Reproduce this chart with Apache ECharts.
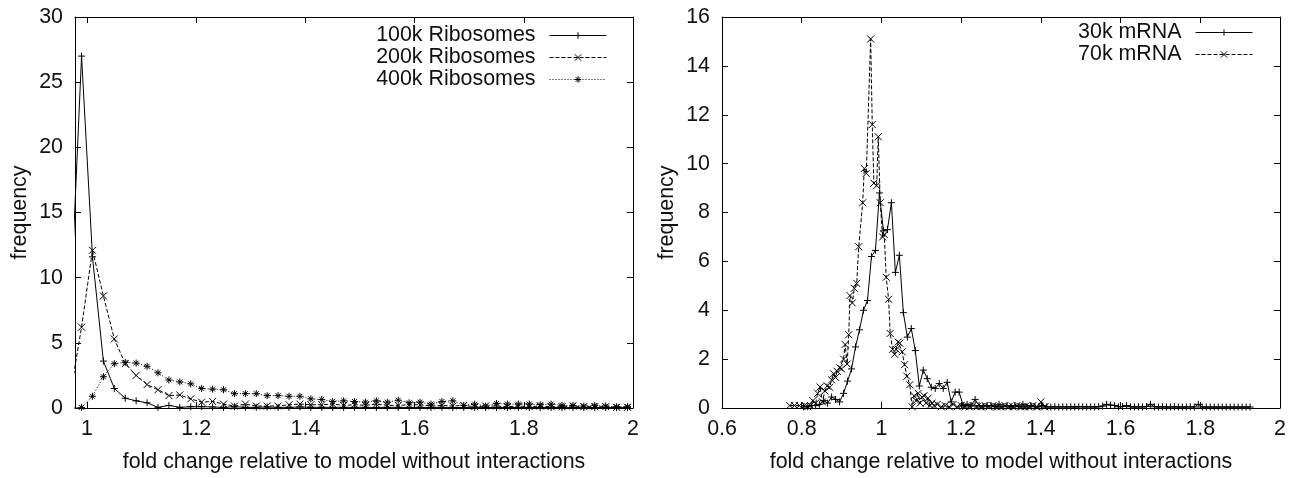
<!DOCTYPE html>
<html><head><meta charset="utf-8">
<script src="https://cdn.jsdelivr.net/npm/echarts@6/dist/echarts.min.js"></script>
<style>html,body{margin:0;padding:0;background:#fff}#c{width:1294px;height:478px}</style>
</head><body><div id="c"></div>
<script>
// ---------- left panel data ----------
const leftX = [0.97,0.99,1.01,1.03,1.05,1.07,1.09,1.11,1.13,1.15,1.17,1.19,1.21,1.23,1.25,1.27,1.29,1.31,1.33,1.35,1.37,1.39,1.41,1.43,1.45,1.47,1.49,1.51,1.53,1.55,1.57,1.59,1.61,1.63,1.65,1.67,1.69,1.71,1.73,1.75,1.77,1.79,1.81,1.83,1.85,1.87,1.89,1.91,1.93,1.95,1.97,1.99];
const ribo100k = [8,27,11.6,3.6,1.5,0.75,0.55,0.4,0.05,0.2,0.05,0.1,0.1,0.08,0.05,0.1,0.05,0.05,0.08,0.05,0.05,0.08,0.05,0.05,0.05,0.05,0.05,0.05,0.04,0.05,0.05,0.04,0.05,0.04,0.05,0.04,0.04,0.05,0.04,0.04,0.04,0.04,0.04,0.03,0.04,0.03,0.03,0.04,0.03,0.03,0.03,0.03];
const ribo200k = [1.2,6.2,12.1,8.6,5.3,3.4,2.5,1.8,1.4,0.95,1.0,0.7,0.45,0.5,0.3,0.15,0.3,0.15,0.15,0.15,0.25,0.3,0.25,0.25,0.3,0.2,0.25,0.2,0.3,0.2,0.2,0.25,0.25,0.15,0.2,0.15,0.2,0.1,0.15,0.15,0.1,0.15,0.1,0.15,0.1,0.1,0.15,0.1,0.1,0.1,0.05,0.05];
const ribo400k = [0,0.05,0.9,2.4,3.4,3.5,3.45,3.2,2.7,2.15,2.0,1.85,1.5,1.45,1.4,1.1,1.1,1.1,0.95,0.95,0.9,0.9,0.7,0.65,0.5,0.55,0.5,0.45,0.55,0.45,0.6,0.4,0.45,0.3,0.5,0.55,0.2,0.3,0.15,0.35,0.3,0.3,0.3,0.25,0.3,0.2,0.2,0.15,0.2,0.15,0.1,0.1];

// ---------- right panel data ----------
const m30kX = [0.805,0.815,0.825,0.835,0.845,0.855,0.865,0.875,0.885,0.895,0.905,0.915,0.925,0.935,0.945,0.955,0.965,0.975,0.985,0.995,1.005,1.015,1.025,1.035,1.045,1.055,1.065,1.075,1.085,1.095,1.105,1.115,1.125,1.135,1.145,1.155,1.165,1.175,1.185,1.195,1.205,1.215,1.225,1.235,1.245,1.255,1.265,1.275,1.285,1.295,1.305,1.315,1.325,1.335,1.345,1.355,1.365,1.375,1.385,1.395,1.405,1.415,1.425,1.435,1.445,1.455,1.465,1.475,1.485,1.495,1.505,1.515,1.525,1.535,1.545,1.555,1.565,1.575,1.585,1.595,1.605,1.615,1.625,1.635,1.645,1.655,1.665,1.675,1.685,1.695,1.705,1.715,1.725,1.735,1.745,1.755,1.765,1.775,1.785,1.795,1.805,1.815,1.825,1.835,1.845,1.855,1.865,1.875,1.885,1.895,1.905,1.915,1.925];
const m30kY = [0.05,0.05,0.1,0.1,0.15,0.3,0.2,0.45,0.35,0.25,0.6,1.1,1.6,2.5,3.2,4.0,4.4,6.2,6.45,8.8,7.25,7.3,8.4,5.55,6.25,3.9,2.9,3.25,2.35,0.9,1.55,1.2,0.85,0.8,1.0,0.8,1.05,0.25,0.65,0.65,0.1,0.15,0.1,0.35,0.1,0.05,0.1,0.1,0.05,0.15,0.05,0.1,0.05,0.1,0.05,0.15,0.05,0.1,0.05,0.05,0.1,0.05,0.04,0.05,0.04,0.05,0.04,0.05,0.04,0.05,0.05,0.04,0.05,0.04,0.05,0.08,0.15,0.12,0.1,0.05,0.06,0.1,0.05,0.04,0.05,0.04,0.06,0.15,0.05,0.04,0.05,0.04,0.04,0.05,0.04,0.04,0.04,0.05,0.04,0.15,0.04,0.04,0.04,0.04,0.04,0.04,0.04,0.04,0.04,0.04,0.04,0.04,0.04];
const m70kX = [0.770,0.782,0.794,0.807,0.815,0.822,0.828,0.835,0.840,0.846,0.852,0.858,0.864,0.870,0.875,0.880,0.885,0.889,0.895,0.900,0.905,0.909,0.914,0.918,0.921,0.927,0.932,0.938,0.943,0.953,0.957,0.962,0.973,0.977,0.981,0.988,0.992,0.997,1.003,1.007,1.012,1.018,1.022,1.028,1.033,1.037,1.042,1.046,1.052,1.058,1.064,1.071,1.077,1.082,1.087,1.092,1.097,1.102,1.107,1.112,1.117,1.122,1.127,1.132,1.14,1.15,1.16,1.17,1.18,1.19,1.2,1.21,1.22,1.23,1.24,1.25,1.26,1.27,1.28,1.29,1.3,1.31,1.32,1.33,1.34,1.35,1.36,1.37,1.38,1.39,1.4,1.41];
const m70kY = [0.1,0.1,0.1,0.1,0.05,0.1,0.3,0.2,0.6,0.86,0.25,0.7,0.9,0.85,1.15,1.4,1.25,1.5,1.65,1.6,2.0,2.6,1.8,3.0,4.6,4.3,4.9,5.1,6.6,8.4,9.8,9.6,15.1,11.6,9.2,9.1,11.1,8.4,7.0,7.1,5.35,4.45,3.05,2.4,2.2,2.4,2.7,2.65,2.3,1.77,1.3,0.95,0.05,0.5,0.3,0.6,0.2,0.45,0.5,0.2,0.4,0.1,0.2,0.1,0.15,0.05,0.1,0.05,0.15,0.05,0.1,0.05,0.05,0.1,0.05,0.05,0.1,0.05,0.1,0.05,0.05,0.1,0.05,0.05,0.1,0.05,0.05,0.05,0.1,0.05,0.25,0.05];

// ---------- ticks ----------
const leftXTicks = [1,1.2,1.4,1.6,1.8,2];
const rightXTicks = [0.6,0.8,1,1.2,1.4,1.6,1.8,2];
const xTitle = 'fold change relative to model without interactions';
const yTitle = 'frequency';

const FONT = "'Liberation Sans', Arial, Helvetica, sans-serif";
const TXT = '#111';
const SYM_PLUS = 'path://M0,5L10,5M5,0L5,10';
const SYM_CROSS = 'path://M0,0L10,10M10,0L0,10';
const SYM_STAR = 'path://M0,5L10,5M5,0L5,10M1.5,1.5L8.5,8.5M8.5,1.5L1.5,8.5';

const zip = (xs, ys) => xs.map((x, i) => [x, ys[i]]);
const txt = {fontSize: 21.4, fontFamily: FONT, color: TXT};

function xAx(grid, min, max, ticks, top) {
  return {
    type: 'value', gridIndex: grid, position: top ? 'top' : 'bottom', min: min, max: max,
    axisLine: {show: true, onZero: false, lineStyle: {color: '#000', width: 1}},
    axisTick: {show: true, inside: true, length: 6, customValues: ticks, lineStyle: {color: '#000', width: 1}},
    axisLabel: Object.assign({show: !top, customValues: ticks, margin: 11}, txt),
    splitLine: {show: false},
    name: top ? '' : xTitle, nameLocation: 'middle', nameGap: 44, nameTextStyle: txt
  };
}
function yAx(grid, max, interval, right) {
  return {
    type: 'value', gridIndex: grid, position: right ? 'right' : 'left', min: 0, max: max, interval: interval,
    axisLine: {show: true, onZero: false, lineStyle: {color: '#000', width: 1}},
    axisTick: {show: true, inside: true, length: 6, lineStyle: {color: '#000', width: 1}},
    axisLabel: Object.assign({show: !right, margin: 12}, txt),
    splitLine: {show: false},
    name: right ? '' : yTitle, nameLocation: 'middle', nameGap: 44, nameTextStyle: txt
  };
}
function ser(name, xi, data, sym, dash) {
  return {
    name: name, type: 'line', xAxisIndex: xi, yAxisIndex: xi, data: data,
    symbol: sym, symbolSize: 7, showSymbol: true, clip: true,
    itemStyle: {color: 'none', borderColor: '#000', borderWidth: 1},
    lineStyle: {color: '#000', width: 1, type: dash},
    emphasis: {disabled: true}, animation: false
  };
}
function leg(names, right, top) {
  return {
    data: names, orient: 'vertical', align: 'right', right: right, top: top, padding: 0,
    itemGap: 1, itemWidth: 57, itemHeight: 8, selectedMode: false,
    textStyle: Object.assign({lineHeight: 21, padding: [0, 9, 0, 0]}, txt),
    itemStyle: {borderWidth: 1}, lineStyle: {width: 1}
  };
}

const chart = echarts.init(document.getElementById('c'), null, {renderer: 'canvas'});
chart.setOption({
  animation: false,
  backgroundColor: '#fff',
  grid: [
    {left: 75, top: 17, width: 558, height: 394},
    {left: 722, top: 17, width: 558, height: 394}
  ],
  xAxis: [
    xAx(0, 0.978, 2, leftXTicks, false),
    xAx(1, 0.6, 2, rightXTicks, false),
    xAx(0, 0.978, 2, leftXTicks, true),
    xAx(1, 0.6, 2, rightXTicks, true)
  ],
  yAxis: [
    yAx(0, 30, 5, false),
    yAx(1, 16, 2, false),
    yAx(0, 30, 5, true),
    yAx(1, 16, 2, true)
  ],
  legend: [
    leg(['100k Ribosomes', '200k Ribosomes', '400k Ribosomes'], 687, 25),
    leg(['30k mRNA', '70k mRNA'], 41, 22)
  ],
  series: [
    ser('100k Ribosomes', 0, zip(leftX, ribo100k), SYM_PLUS, 'solid'),
    ser('200k Ribosomes', 0, zip(leftX, ribo200k), SYM_CROSS, [4, 2]),
    ser('400k Ribosomes', 0, zip(leftX, ribo400k), SYM_STAR, [1, 2]),
    ser('30k mRNA', 1, zip(m30kX, m30kY), SYM_PLUS, 'solid'),
    ser('70k mRNA', 1, zip(m70kX, m70kY), SYM_CROSS, [4, 2])
  ]
});
</script>
</body></html>
